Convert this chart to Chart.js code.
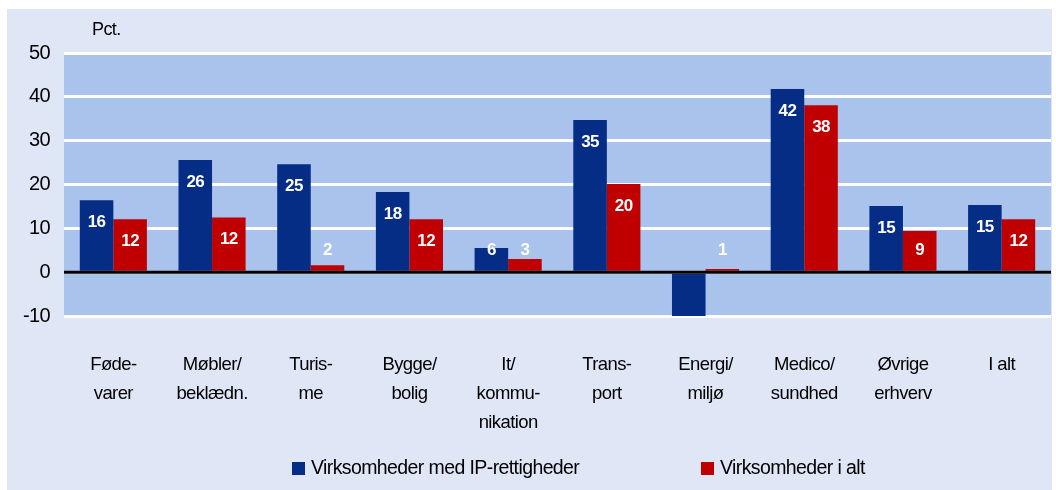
<!DOCTYPE html>
<html><head><meta charset="utf-8">
<script src="https://cdn.jsdelivr.net/npm/chart.js@4"></script>
<style>
html,body{margin:0;padding:0;background:#fff;}
#wrap{position:absolute;left:0;top:0;width:1056px;height:490px;}
</style></head>
<body>
<div id="wrap"><canvas id="c" width="1056" height="490"></canvas></div>
<script>
const categories = [["Føde-","varer"],["Møbler/","beklædn."],["Turis-","me"],["Bygge/","bolig"],["It/","kommu-","nikation"],["Trans-","port"],["Energi/","miljø"],["Medico/","sundhed"],["Øvrige","erhverv"],["I alt"]];
const ipValues = [16.4, 25.6, 24.6, 18.3, 5.5, 34.7, -10, 41.8, 15.1, 15.3];
const ipLabels = ["16","26","25","18","6","35","","42","15","15"];
const allValues = [12.1, 12.5, 1.6, 12.1, 3.0, 20.1, 0.7, 38.1, 9.4, 12.1];
const allLabels = ["12","12","2","12","3","20","1","38","9","12"];
const seriesNames = ["Virksomheder med IP-rettigheder","Virksomheder i alt"];
const yTicks = [50,40,30,20,10,0,-10];
const unitLabel = "Pct.";

const BLUE = "#062d86", RED = "#c00000";
const FONT = "'Liberation Sans', Arial, sans-serif";

const bgPlugin = {
  id: 'bg',
  beforeDraw(chart){
    const ctx = chart.ctx, a = chart.chartArea;
    ctx.save();
    ctx.fillStyle = "#ffffff";
    ctx.fillRect(0,0,chart.width,chart.height);
    ctx.fillStyle = "#dfe7f7";
    ctx.fillRect(7,9,1045,481);
    ctx.fillStyle = "#a9c3ec";
    ctx.fillRect(a.left, a.top, a.right-a.left, a.bottom-a.top);
    ctx.restore();
    ctx.letterSpacing = "-0.6px";
  },
  afterDatasetsDraw(chart){
    const ctx = chart.ctx, y = chart.scales.y;
    const zeroY = y.getPixelForValue(0);
    ctx.save();
    ctx.font = "bold 17px " + FONT;
    ctx.fillStyle = "#ffffff";
    ctx.textAlign = "center";
    ctx.textBaseline = "middle";
    const labs = [ipLabels, allLabels];
    chart.data.datasets.forEach((ds, di) => {
      const meta = chart.getDatasetMeta(di);
      meta.data.forEach((bar, i) => {
        const t = labs[di][i];
        if (!t) return;
        const top = Math.min(bar.y, bar.base);
        const ly = Math.min(top + 22, zeroY - 22);
        ctx.fillText(t, bar.x, ly);
      });
    });
    // zero line
    ctx.strokeStyle = "#000";
    ctx.lineWidth = 3;
    ctx.beginPath();
    ctx.moveTo(chart.chartArea.left, zeroY);
    ctx.lineTo(chart.chartArea.right, zeroY);
    ctx.stroke();
    // unit label
    ctx.font = "18px " + FONT;
    ctx.fillStyle = "#000";
    ctx.textAlign = "left";
    ctx.fillText(unitLabel, 92, 30);
    // legend
    const items = [[292, BLUE, seriesNames[0]], [701, RED, seriesNames[1]]];
    ctx.font = "19.5px " + FONT;
    items.forEach(([x, col, txt]) => {
      ctx.fillStyle = col;
      ctx.fillRect(x, 462, 13, 13);
      ctx.fillStyle = "#000";
      ctx.fillText(txt, x + 19, 469);
    });
    ctx.restore();
  }
};

new Chart(document.getElementById('c'), {
  type: 'bar',
  data: {
    labels: categories,
    datasets: [
      {label: seriesNames[0], data: ipValues, backgroundColor: BLUE, borderWidth: 0},
      {label: seriesNames[1], data: allValues, backgroundColor: RED, borderWidth: 0}
    ]
  },
  options: {
    responsive: false,
    animation: false,
    devicePixelRatio: 1,
    layout: {padding: {top: 53, right: 5, left: 0, bottom: 0}},
    plugins: {legend: {display: false}, tooltip: {enabled: false}},
    datasets: {bar: {categoryPercentage: 0.68, barPercentage: 1}},
    scales: {
      x: {
        grid: {display: false, drawTicks: false},
        border: {display: false},
        ticks: {color: "#000", font: {family: FONT, size: 18.5, lineHeight: 1.57}, padding: 34, maxRotation: 0, autoSkip: false},
        afterFit(s){ s.height = 490 - 316 - 0; }
      },
      y: {
        min: -10, max: 50,
        afterBuildTicks(s){ s.ticks = yTicks.map(v => ({value: v})); },
        grid: {color: "#ffffff", lineWidth: 3, drawTicks: false},
        border: {display: false},
        ticks: {color: "#000", font: {family: FONT, size: 20}, padding: 14},
        afterFit(s){ s.width = 64; }
      }
    }
  },
  plugins: [bgPlugin]
});
</script>
</body></html>
